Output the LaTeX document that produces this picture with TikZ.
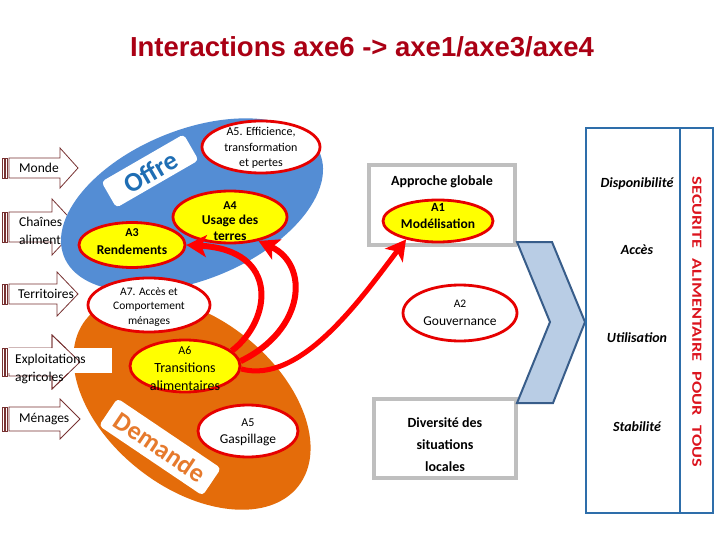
\documentclass[tikz,border=0pt]{standalone}
\usepackage{fontspec}
\usepackage{graphicx}
\setmainfont{Carlito}
\newfontfamily\titlefont{Liberation Sans}
\usetikzlibrary{shapes.geometric,arrows.meta}
\definecolor{bluefill}{RGB}{84,141,212}
\definecolor{orangefill}{RGB}{228,108,10}
\definecolor{offretext}{RGB}{31,110,180}
\definecolor{demandetext}{RGB}{230,122,45}
\definecolor{ellred}{RGB}{230,0,0}
\definecolor{yelfill}{RGB}{255,255,0}
\definecolor{grayline}{RGB}{191,191,191}
\definecolor{chevfill}{RGB}{185,205,229}
\definecolor{chevdraw}{RGB}{56,93,138}
\definecolor{rectblue}{RGB}{46,110,170}
\definecolor{arrred}{RGB}{255,0,0}
\definecolor{titlered}{RGB}{170,0,20}
\definecolor{secured}{RGB}{220,20,30}
\definecolor{arrowbrown}{RGB}{120,50,50}
\newcommand{\sarrow}[5]{%
  \draw[larrow] (2,{#1-#2}) rectangle (4,{#1+#2});
  \draw[larrow] (5.5,{#1-#2}) rectangle (7.5,{#1+#2});
  \draw[larrow] (9,{#1-#2}) -- (#4,{#1-#2}) -- (#4,{#1-#3}) -- (#5,#1) -- (#4,{#1+#3}) -- (#4,{#1+#2}) -- (9,{#1+#2}) -- cycle;
}
\newcommand{\wsc}[1]{\scalebox{1.3}[1]{#1}}
\tikzset{
  larrow/.style={draw=arrowbrown, fill=white, line width=0.8pt},
  lbl/.style={font=\fontsize{13.5}{18}\selectfont, inner sep=0pt, align=left},
  yel/.style={ellipse, draw=ellred, line width=2.8pt, fill=yelfill, inner sep=0pt},
  wel/.style={ellipse, draw=ellred, line width=2.8pt, fill=white, inner sep=0pt},
  etxt/.style={inner sep=0pt, align=center},
  graybox/.style={draw=grayline, line width=4pt, fill=white, inner sep=0pt},
  dimtxt/.style={font=\fontsize{14}{16}\selectfont\bfseries\itshape, inner sep=0pt},
  redarr/.style={draw=arrred, line width=6pt, -{Stealth[length=20pt,width=22pt,inset=5pt]}},
}
\begin{document}
\begin{tikzpicture}[x=1pt,y=-1pt]
\useasboundingbox (0,0) rectangle (720,540);
\fill[white] (0,0) rectangle (720,540);

% title
\node[font=\titlefont\bfseries\fontsize{27.5}{30}\selectfont, text=titlered, inner sep=0pt] (title) at (362,47) {Interactions axe6 -> axe1/axe3/axe4};

% left arrows
\sarrow{168}{10}{20}{60}{78}
\sarrow{227}{15}{28}{52}{78}
\sarrow{294}{10}{22}{57}{78}
\sarrow{362}{14}{27}{52}{80}
\sarrow{419}{12}{20}{60}{80}

\node[lbl, anchor=west] (monde) at (19,168) {Monde};
\begin{scope}
  \clip (9,198) rectangle (64,256);
  \node[lbl, anchor=west] (chaines) at (19,231) {Chaînes\\alimentaires};
\end{scope}
\node[lbl, anchor=west] (territoires) at (18,294) {Territoires};
\node[lbl, anchor=west] (menages) at (19,419) {Ménages};

% big ellipses
\node[ellipse, fill=bluefill, minimum width=276pt, minimum height=150pt, inner sep=0pt, rotate=22] (offre) at (192,205) {};
\node[ellipse, fill=orangefill, minimum width=270pt, minimum height=170pt, inner sep=0pt, rotate=-38] (demande) at (192,403) {};

% exploitations box
\fill[white] (8,348) rectangle (112,373);
\draw[arrowbrown, line width=0.8pt] (52,348) -- (52,335) -- (80,362) -- (52,389) -- (52,376);
\node[lbl, anchor=west] (exploit) at (15,369) {Exploitations\\agricoles};

% rotated labels
\fill[white, rounded corners=4pt, rotate around={30:(150,171)}] (102.5,156) rectangle (197.5,186);
\node[inner sep=0pt, rotate=30, text=offretext, font=\fontsize{27}{27}\selectfont\bfseries] (offrelbl) at (151,172) {Offre};
\fill[white, rounded corners=4pt, rotate around={-34:(160,447)}] (97.5,430.5) rectangle (222.5,463.5);
\node[inner sep=0pt, rotate=-34, text=demandetext, font=\fontsize{26}{26}\selectfont\bfseries] (demandelbl) at (160,447) {Demande};

% ellipses with actions
\node[wel, minimum width=118pt, minimum height=52pt] (A5E) at (261,147) {};
\node[etxt, font=\fontsize{12}{15.5}\selectfont] (A5Et) at (261,148) {A5. Efficience,\\transformation\\et pertes};
\node[yel, minimum width=114pt, minimum height=52pt] (A4) at (230,217) {};
\node[etxt, font=\fontsize{13.5}{15.5}\selectfont\bfseries] (A4t) at (230,221) {{\fontsize{12}{12}\selectfont A4}\\Usage des\\terres};
\node[yel, minimum width=106pt, minimum height=45pt] (A3) at (132,245) {};
\node[etxt, font=\fontsize{13.5}{18}\selectfont\bfseries] (A3t) at (132,242) {{\fontsize{12}{12}\selectfont A3}\\Rendements};
\node[wel, minimum width=122pt, minimum height=54pt] (A7) at (149,305) {};
\node[etxt, font=\fontsize{11.5}{14.5}\selectfont] (A7t) at (149,307) {A7. Accès et\\Comportement\\ménages};
\node[yel, minimum width=110pt, minimum height=52pt] (A6) at (185,366) {};
\node[etxt, font=\fontsize{14}{18}\selectfont] (A6t) at (185,368) {{\fontsize{12}{12}\selectfont A6}\\Transitions\\alimentaires};
\node[wel, minimum width=100pt, minimum height=52pt] (A5G) at (248,431) {};
\node[etxt, font=\fontsize{13.5}{17}\selectfont] (A5Gt) at (248,432) {{\fontsize{12}{12}\selectfont A5}\\Gaspillage};

% middle column
\node[graybox, minimum width=146pt, minimum height=80pt] (appr) at (442,205) {};
\node[etxt, font=\fontsize{14}{16}\selectfont\bfseries] (apprt) at (442,182) {Approche globale};
\node[yel, minimum width=110pt, minimum height=42pt] (A1) at (438,221) {};
\node[etxt, font=\fontsize{13.5}{17}\selectfont\bfseries] (A1t) at (438,216) {{\fontsize{12.5}{12.5}\selectfont A1}\\Modélisation};
\node[wel, minimum width=114pt, minimum height=56pt] (A2) at (460,313) {};
\node[etxt, font=\fontsize{13.5}{18}\selectfont] (A2t) at (460,313) {{\fontsize{11.5}{11.5}\selectfont A2}\\Gouvernance};
\node[graybox, minimum width=142pt, minimum height=79pt] (divers) at (445,438.5) {};
\node[etxt, font=\fontsize{14}{22}\selectfont\bfseries] (diverst) at (445,445) {Diversité des\\situations\\locales};

% chevron
\draw[fill=chevfill, draw=chevdraw, line width=2pt, line join=miter] (517,242) -- (552,242) -- (585,322) -- (553,403) -- (517,403) -- (550,322) -- cycle;

% right panel
\draw[rectblue, line width=2.5pt] (586,128) rectangle (713,513);
\draw[rectblue, line width=2.5pt] (680,128) -- (680,513);
\node[dimtxt] (dispo) at (637,184) {Disponibilité};
\node[dimtxt] (acces) at (637,250) {Accès};
\node[dimtxt] (utilis) at (637,338) {Utilisation};
\node[dimtxt] (stabil) at (637,427) {Stabilité};
\node[rotate=-90, text=secured, font=\fontsize{14}{16}\selectfont\bfseries, inner sep=0pt] (secu) at (697,322) {\makebox[290pt][s]{\wsc{SECURITE} \wsc{ALIMENTAIRE} \wsc{POUR} \wsc{TOUS}}};

% red arrows
\draw[redarr] (A6.18) .. controls (272,320) and (280,250) .. (A3.east);
\draw[redarr] (A6.5) .. controls (305,330) and (310,265) .. (A4.-40);
\draw[redarr, line width=5pt] (A6.-3) .. controls (300,385) and (360,300) .. (A1.-150);
\end{tikzpicture}
\end{document}
